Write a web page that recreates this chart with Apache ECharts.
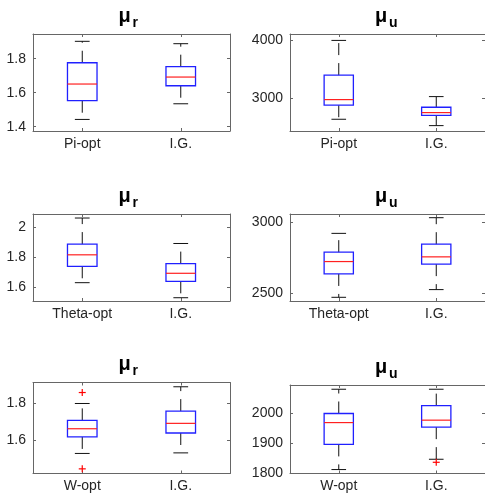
<!DOCTYPE html>
<html><head><meta charset="utf-8">
<script src="https://cdn.jsdelivr.net/npm/echarts@6/dist/echarts.min.js"></script>
<style>html,body{margin:0;padding:0;background:#fff}#c{width:485px;height:496px}</style>
</head><body><div id="c"></div>
<script>
// categories
const catsPi = ['Pi-opt', 'I.G.'];
const catsTheta = ['Theta-opt', 'I.G.'];
const catsW = ['W-opt', 'I.G.'];
// box stats: [min whisker, q1, median, q3, max whisker]
const muR_Pi = [[1.443, 1.553, 1.651, 1.776, 1.902], [1.535, 1.641, 1.692, 1.753, 1.888]];
const muU_Pi = [[2636, 2879, 2976, 3400, 4000], [2526, 2705, 2751, 2844, 3028]];
const muR_Theta = [[1.629, 1.739, 1.816, 1.888, 2.063], [1.528, 1.638, 1.692, 1.757, 1.892]];
const muU_Theta = [[2474, 2638, 2725, 2791, 2923], [2528, 2707, 2758, 2847, 3033]];
const muR_W = [[1.529, 1.618, 1.662, 1.707, 1.798], [1.532, 1.639, 1.691, 1.757, 1.888]];
const muU_W = [[1813, 1896, 1968, 1998, 2078], [1847, 1953, 1976, 2024, 2078]];
// outliers: [category index, value]
const outR_W = [[0, 1.857], [0, 1.446]];
const outU_W = [[1, 1837]];
// y ranges and tick labels
const rangeR_Pi = [1.375, 1.945], ticksR_Pi = [1.4, 1.6, 1.8];
const rangeU_Pi = [2433, 4111], ticksU_Pi = [3000, 4000];
const rangeR_Theta = [1.506, 2.09], ticksR_Theta = [1.6, 1.8, 2];
const rangeU_Theta = [2448, 3059], ticksU_Theta = [2500, 3000];
const rangeR_W = [1.421, 1.911], ticksR_W = [1.6, 1.8];
const rangeU_W = [1800, 2092], ticksU_W = [1800, 1900, 2000];
const subR = 'r', subU = 'u';

const panels = [
  {cats: catsPi, box: muR_Pi, out: [], range: rangeR_Pi, ticks: ticksR_Pi, sub: subR, grid: {left: 33, top: 34, width: 197, height: 97}},
  {cats: catsPi, box: muU_Pi, out: [], range: rangeU_Pi, ticks: ticksU_Pi, sub: subU, grid: {left: 290, top: 34, width: 196, height: 97}},
  {cats: catsTheta, box: muR_Theta, out: [], range: rangeR_Theta, ticks: ticksR_Theta, sub: subR, grid: {left: 33, top: 214, width: 197, height: 87}},
  {cats: catsTheta, box: muU_Theta, out: [], range: rangeU_Theta, ticks: ticksU_Theta, sub: subU, grid: {left: 290, top: 214, width: 196, height: 87}},
  {cats: catsW, box: muR_W, out: outR_W, range: rangeR_W, ticks: ticksR_W, sub: subR, grid: {left: 33, top: 382.5, width: 197, height: 91}},
  {cats: catsW, box: muU_W, out: outU_W, range: rangeU_W, ticks: ticksU_W, sub: subU, grid: {left: 290, top: 385, width: 196, height: 88.5}}
];

const AX = '#666';
const TXT = '#262626';
const FONT = 'Liberation Sans';

function renderBox(params, api) {
  const x = api.value(0);
  const band = api.size([1, 0])[0];
  const hw = band * 0.15, cw = band * 0.075;
  const pLo = api.coord([x, api.value(1)]);
  const pQ1 = api.coord([x, api.value(2)]);
  const pMd = api.coord([x, api.value(3)]);
  const pQ3 = api.coord([x, api.value(4)]);
  const pHi = api.coord([x, api.value(5)]);
  const cx = pMd[0];
  const wh = {stroke: '#111', lineWidth: 1, lineDash: [12, 8]};
  const cap = {stroke: '#111', lineWidth: 1};
  return {type: 'group', children: [
    {type: 'line', shape: {x1: cx, y1: pQ3[1], x2: cx, y2: pHi[1]}, style: wh},
    {type: 'line', shape: {x1: cx, y1: pQ1[1], x2: cx, y2: pLo[1]}, style: wh},
    {type: 'line', shape: {x1: cx - cw, y1: pHi[1], x2: cx + cw, y2: pHi[1]}, style: cap},
    {type: 'line', shape: {x1: cx - cw, y1: pLo[1], x2: cx + cw, y2: pLo[1]}, style: cap},
    {type: 'rect', shape: {x: cx - hw, y: pQ3[1], width: 2 * hw, height: pQ1[1] - pQ3[1]}, style: {fill: 'rgba(0,0,0,0)', stroke: '#2020ff', lineWidth: 1.3}},
    {type: 'line', shape: {x1: cx - hw, y1: pMd[1], x2: cx + hw, y2: pMd[1]}, style: {stroke: '#ff2020', lineWidth: 1.2}}
  ]};
}
function renderPlus(params, api) {
  const p = api.coord([api.value(0), api.value(1)]);
  const s = 3.5;
  const st = {stroke: '#ff0000', lineWidth: 1.2};
  return {type: 'group', children: [
    {type: 'line', shape: {x1: p[0] - s, y1: p[1], x2: p[0] + s, y2: p[1]}, style: st},
    {type: 'line', shape: {x1: p[0], y1: p[1] - s, x2: p[0], y2: p[1] + s}, style: st}
  ]};
}
const fmt = v => String(Math.round(v * 1000) / 1000);

const option = {animation: false, backgroundColor: '#fff', grid: [], xAxis: [], yAxis: [], series: [], title: []};
panels.forEach((p, i) => {
  option.grid.push(Object.assign({containLabel: false}, p.grid));
  const cx = p.grid.left + p.grid.width / 2;
  option.title.push({text: 'μ', left: cx - 13, top: p.grid.top - 28, padding: 0,
    textStyle: {fontFamily: FONT, fontSize: 20, fontWeight: 'bold', color: '#000'}});
  option.title.push({text: p.sub, left: cx + 1, top: p.grid.top - 18, padding: 0,
    textStyle: {fontFamily: FONT, fontSize: 14, fontWeight: 'bold', color: '#000'}});
  ['bottom', 'top'].forEach((pos, k) => {
    option.xAxis.push({gridIndex: i, type: 'category', data: p.cats, position: pos,
      axisLine: {show: true, onZero: false, lineStyle: {color: AX, width: 1}},
      axisTick: {show: true, inside: true, alignWithLabel: true, length: 3, lineStyle: {color: AX}},
      axisLabel: {show: k === 0, color: TXT, fontSize: 14, fontFamily: FONT, margin: 6},
      splitLine: {show: false}});
  });
  ['left', 'right'].forEach((pos, k) => {
    option.yAxis.push({gridIndex: i, type: 'value', min: p.range[0], max: p.range[1], position: pos,
      axisLine: {show: true, onZero: false, lineStyle: {color: AX, width: 1}},
      axisTick: {show: true, inside: true, length: 3, customValues: p.ticks, lineStyle: {color: AX}},
      axisLabel: {show: k === 0, customValues: p.ticks, formatter: fmt, color: TXT, fontSize: 14, fontFamily: FONT, margin: 7},
      splitLine: {show: false}});
  });
  option.series.push({type: 'custom', xAxisIndex: 2 * i, yAxisIndex: 2 * i, renderItem: renderBox,
    encode: {x: 0, y: [1, 2, 3, 4, 5]},
    data: p.box.map((b, j) => [j].concat(b))});
  if (p.out.length) {
    option.series.push({type: 'custom', xAxisIndex: 2 * i, yAxisIndex: 2 * i, renderItem: renderPlus,
      encode: {x: 0, y: 1}, data: p.out});
  }
});
const chart = echarts.init(document.getElementById('c'), null, {renderer: 'canvas'});
chart.setOption(option);
</script></body></html>
